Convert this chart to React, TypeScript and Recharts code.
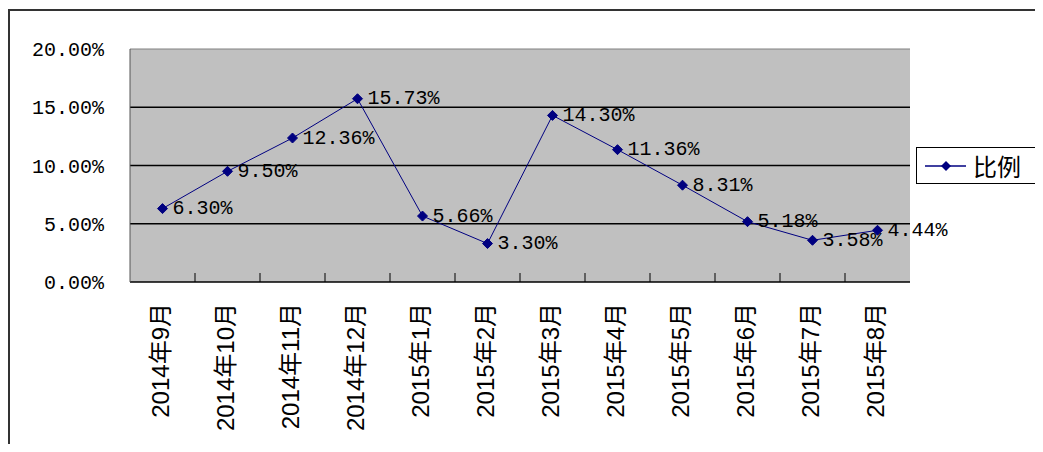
import React from "react";
import {
  LineChart,
  Line,
  XAxis,
  YAxis,
  CartesianGrid,
  ReferenceLine,
  LabelList,
} from "recharts";

// monthly ratio, percent
const CATEGORIES = [
  "2014年9月",
  "2014年10月",
  "2014年11月",
  "2014年12月",
  "2015年1月",
  "2015年2月",
  "2015年3月",
  "2015年4月",
  "2015年5月",
  "2015年6月",
  "2015年7月",
  "2015年8月",
];
const RATIO = [6.3, 9.5, 12.36, 15.73, 5.66, 3.3, 14.3, 11.36, 8.31, 5.18, 3.58, 4.44];
const Y_TICKS = [0, 5, 10, 15, 20];
const GRID_VALUES = [5, 10, 15];
const SERIES_NAME = "比例";

const data = CATEGORIES.map((month, i) => ({ month, ratio: RATIO[i] }));

const W = 1027;
const H = 436;
const MARGIN = { top: 41, right: 125, bottom: 12, left: 0 };
const Y_AXIS_W = 122;
const PLOT_W = W - MARGIN.left - MARGIN.right - Y_AXIS_W;
const STEP = PLOT_W / CATEGORIES.length;

const NAVY = "#000080";
const MONO = "'Liberation Mono', 'DejaVu Sans Mono', monospace";
const SANS = "'Liberation Sans', Arial, 'Noto Sans CJK SC', sans-serif";

const fmt = (v: number) => `${v.toFixed(2)}%`;

function Diamond(props: any) {
  const { cx, cy } = props;
  if (cx == null || cy == null) return null;
  const r = 5;
  return (
    <polygon
      points={`${cx},${cy - r} ${cx + r},${cy} ${cx},${cy + r} ${cx - r},${cy}`}
      fill={NAVY}
      stroke={NAVY}
    />
  );
}

function MonthTick(props: any) {
  const { x, y, payload, index } = props;
  return (
    <g>
      {index < CATEGORIES.length - 1 && (
        <line x1={x + STEP / 2} x2={x + STEP / 2} y1={y} y2={y - 9} stroke="#000" />
      )}
      <text
        transform={`translate(${x - 2},${y + 21}) rotate(-90)`}
        textAnchor="end"
        dominantBaseline="central"
        fontSize={24}
        fontFamily={SANS}
        fill="#000"
      >
        {payload.value}
      </text>
    </g>
  );
}

function ValueLabel(props: any) {
  const { x, y, value } = props;
  return (
    <text
      x={x + 10}
      y={y}
      dominantBaseline="central"
      fontSize={20}
      fontFamily={MONO}
      fill="#000"
    >
      {fmt(value)}
    </text>
  );
}

function LegendBox() {
  return (
    <div
      style={{
        position: "absolute",
        left: 908,
        top: 139,
        width: 126,
        height: 37,
        boxSizing: "border-box",
        border: "1px solid #000",
        background: "#fff",
        display: "flex",
        alignItems: "center",
      }}
    >
      <svg width={56} height={20}>
        <line x1={8} x2={49} y1={10} y2={10} stroke={NAVY} strokeWidth={1.5} />
        <polygon points="29,5 34,10 29,15 24,10" fill={NAVY} />
      </svg>
      <span style={{ fontSize: 24, fontFamily: "'Noto Sans CJK SC', sans-serif", color: "#000", lineHeight: 1 }}>
        {SERIES_NAME}
      </span>
    </div>
  );
}

export default function App() {
  return (
    <div style={{ position: "relative", width: W, height: H }}>
      <style>{`html, body { overflow: hidden; }`}</style>
      <div
        style={{
          position: "absolute",
          left: 0,
          top: 1,
          width: W + 6,
          height: H + 10,
          borderTop: "2px solid #333",
          borderLeft: "2px solid #333",
        }}
      />
      <div style={{ position: "absolute", left: 0, top: 0 }}>
        <LineChart width={W} height={H} data={data} margin={MARGIN}>
          <CartesianGrid yAxisId="left" horizontal={false} vertical={false} fill="#C0C0C0" />
          <XAxis
            dataKey="month"
            interval={0}
            padding={{ left: STEP / 2, right: STEP / 2 }}
            height={150}
            tickSize={0}
            tickMargin={0}
            tickLine={false}
            axisLine={{ stroke: "#000", strokeWidth: 1.5 }}
            tick={<MonthTick />}
          />
          <YAxis
            yAxisId="left"
            width={Y_AXIS_W}
            domain={[0, 20]}
            ticks={Y_TICKS}
            tickFormatter={fmt}
            tickLine={false}
            tickMargin={20}
            axisLine={{ stroke: "#555" }}
            tick={{ fontSize: 20, fontFamily: MONO, fill: "#000" }}
          />
          <YAxis
            yAxisId="right"
            orientation="right"
            width={0}
            domain={[0, 20]}
            tick={false}
            tickLine={false}
            axisLine={{ stroke: "#808080" }}
          />
          {GRID_VALUES.map((v) => (
            <ReferenceLine key={v} yAxisId="left" y={v} stroke="#000" strokeWidth={1.5} />
          ))}
          <ReferenceLine yAxisId="left" y={20} stroke="#808080" />
          <Line
            yAxisId="left"
            type="linear"
            dataKey="ratio"
            name={SERIES_NAME}
            stroke={NAVY}
            strokeWidth={1}
            dot={<Diamond />}
            activeDot={false}
            isAnimationActive={false}
          >
            <LabelList dataKey="ratio" content={<ValueLabel />} />
          </Line>
        </LineChart>
      </div>
      <LegendBox />
    </div>
  );
}
